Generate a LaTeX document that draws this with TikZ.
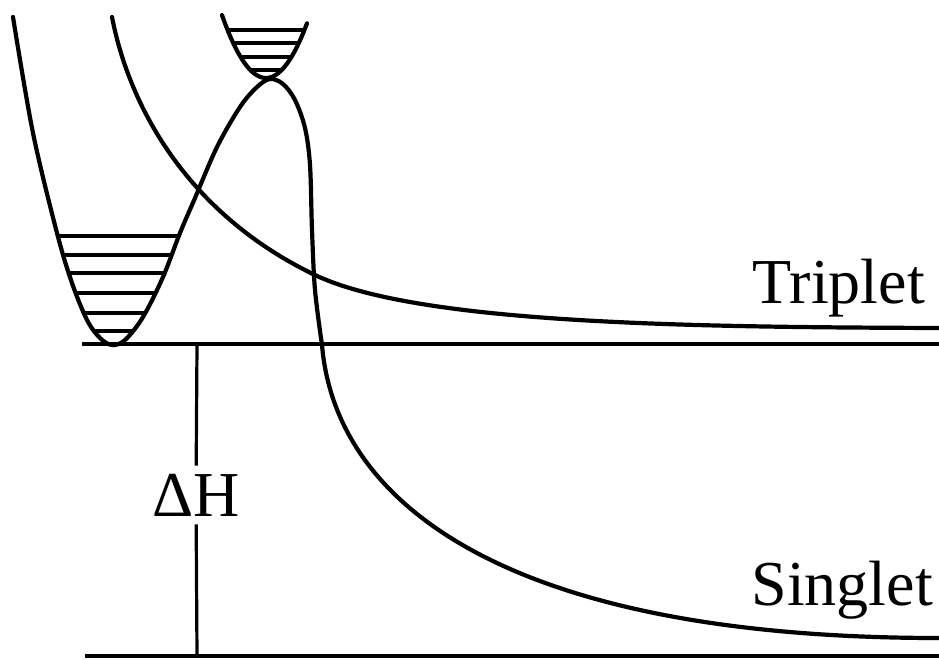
\documentclass[tikz,border=0pt]{standalone}
\usepackage{fontspec}
\setmainfont{Liberation Serif}
\usepackage{tikz}
\usetikzlibrary{positioning,calc}

\begin{document}
\begin{tikzpicture}[
  x=1pt, y=-1pt,
  curve/.style={line width=4.2pt, line cap=round, line join=round},
  level/.style={line width=3.2pt},
  base/.style={line width=3.2pt},
  label/.style={font=\fontsize{64}{70}\selectfont, inner sep=0pt}
]
\useasboundingbox (0,0) rectangle (939,659);

% singlet surface: well, barrier and decay
\draw[curve] plot[smooth, tension=0.55] coordinates {
  (13,17) (33,133) (57,233) (72,283) (87,320) (100,338) (112,345)
  (125,340) (143,317) (163,277) (180,233) (195,198) (217,147) (240,107)
  (257,87) (270,79) (283,84) (295,100) (305,128) (310,165) (312,230)
  (315,290) (322,345)}
  .. controls (335,500) and (500,638) .. (939,638);

% vibrational levels in the lower well
\begin{scope}
  \clip plot[smooth, tension=0.55] coordinates {
    (13,17) (33,133) (57,233) (72,283) (87,320) (100,338) (112,345)
    (125,340) (143,317) (163,277) (180,233) (195,198)} -- cycle;
  \foreach \ly in {236,255,273,293,313,331}
    \draw[level] (0,\ly) -- (260,\ly);
\end{scope}

% upper well on top of the barrier
\draw[curve] plot[domain=-44:41, samples=40, smooth] ({266+\x},{78-0.0325*\x*\x});
\foreach \ly in {30,43,57,70}
  \draw[level] ({266-sqrt((78-\ly)/0.0325)},\ly) -- ({266+sqrt((78-\ly)/0.0325)},\ly);

% triplet surface
\draw[curve] (112,17) .. controls (130,110) and (190,215) .. (315,275)
  .. controls (420,325) and (700,327) .. (939,328);

% reference levels
\coordinate (tripL) at (82,344);
\coordinate (tripR) at (939,344);
\coordinate (singL) at (85,656);
\coordinate (singR) at (939,656);
\draw[base] (tripL) -- (tripR);
\draw[base] (singL) -- (singR);

\node[label, anchor=base east] (triplet) at (925,303) {Triplet};
\node[label, anchor=base east] (singlet) at (933,605) {Singlet};

% enthalpy gap
\coordinate (dhTop) at (197,344);
\coordinate (dhBot) at (197,656);
\node[label, inner ysep=8pt] (dH) at (196,495) {ΔH};
\draw[base] (dhTop) -- (dH);
\draw[base] (dH) -- (dhBot);
\end{tikzpicture}
\end{document}
